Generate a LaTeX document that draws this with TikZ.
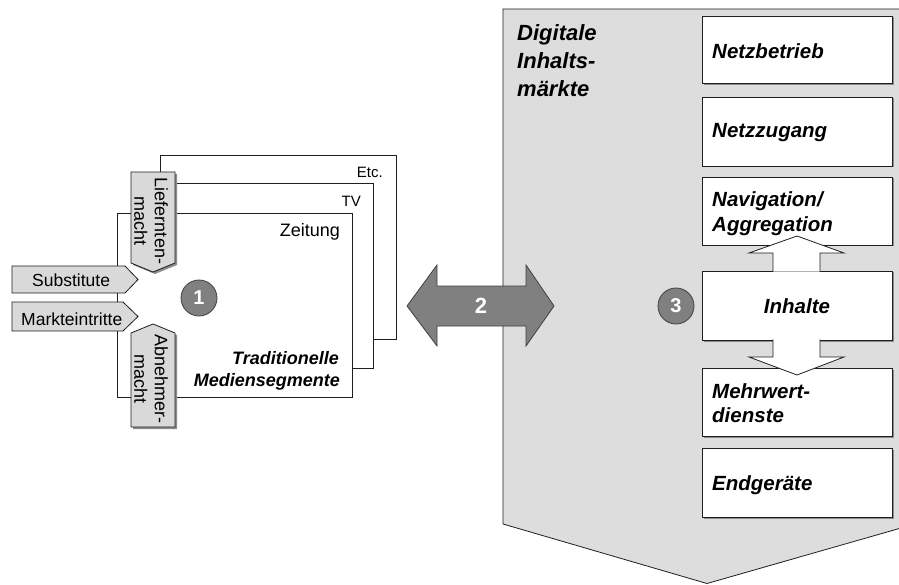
\documentclass[tikz,border=0pt]{standalone}
\usepackage{fontspec}
\setmainfont{Liberation Sans}
\definecolor{panelgray}{HTML}{DDDDDD}
\definecolor{taggray}{HTML}{D9D9D9}
\definecolor{midgray}{HTML}{808080}
\definecolor{rimgray}{HTML}{404040}
\definecolor{linecol}{HTML}{1E1E1E}
\definecolor{shadecol}{HTML}{8C8C8C}

\tikzset{
  framebox/.style={draw=linecol, fill=white, line width=0.8pt},
  tagshape/.style={draw=linecol, fill=taggray, line width=0.8pt},
  shadecopy/.style={fill=shadecol, draw=none},
  stagebox/.style={draw=linecol, fill=white, line width=0.8pt},
  flowarrow/.style={draw=linecol, fill=white, line width=0.8pt},
  numdisc/.style={circle, draw=rimgray, fill=midgray, line width=0.8pt,
    minimum size=36pt, inner sep=0pt, text=white,
    font=\fontsize{20}{20}\selectfont\bfseries},
  plain/.style={inner sep=0pt, font=\fontsize{#1}{#1}\selectfont},
  plain/.default=18,
  emph/.style={inner sep=0pt, font=\fontsize{#1}{#1}\selectfont\bfseries\itshape},
  emph/.default=20.5,
  vlabel/.style={inner sep=0pt, rotate=-90, align=center,
    font=\fontsize{18}{20.5}\selectfont}
}

\begin{document}
\begin{tikzpicture}[x=1pt, y=-1pt, line join=miter]
\useasboundingbox (0,0) rectangle (899,585);
\clip (0,0) rectangle (899,585);

% stacked segment sheets: Etc., TV, Zeitung
\draw[framebox] (160.5,155) rectangle (396,339);
\draw[framebox] (174,183.5) rectangle (373,368);
\draw[framebox] (117,213) rectangle (352,397);

\node[plain=15, anchor=base east] (etc) at (383,178) {Etc.};
\node[plain=15, anchor=base east] (tv) at (361,207) {TV};
\node[plain=18, anchor=base east] (zeitung) at (340,237) {Zeitung};
\node[emph=18, anchor=base east] (trad) at (339,364) {Traditionelle};
\node[emph=18, anchor=base east] (mseg) at (340,386) {Mediensegmente};

% forces pointing at the traditional segment
\fill[shadecopy] (133,174) -- (177,174) -- (177,265) -- (155,274) -- (133,265) -- cycle;
\draw[tagshape] (131,172) -- (175,172) -- (175,263) -- (153,272) -- (131,263) -- cycle;
\node[vlabel] (liefer) at (151,221) {Liefernten-\\macht};

\fill[shadecopy] (133,429) -- (133,335) -- (155,326) -- (177,335) -- (177,429) -- cycle;
\draw[tagshape] (131,427) -- (131,333) -- (153,324) -- (175,333) -- (175,427) -- cycle;
\node[vlabel] (abnehm) at (151,379) {Abnehmer-\\macht};

\draw[tagshape] (12,266) -- (125,266) -- (138,279.5) -- (125,293) -- (12,293) -- cycle;
\node[plain=17.5, anchor=base west] (subst) at (32,287) {Substitute};
\draw[tagshape] (12,302) -- (123,302) -- (138,316.5) -- (123,331) -- (12,331) -- cycle;
\node[plain=17.5, anchor=base west] (markt) at (21,325) {Markteintritte};

\node[numdisc] (one) at (199,298) {1};

% digital content markets panel
\draw[fill=panelgray, draw=linecol, line width=0.8pt]
  (503,9) -- (915,9) -- (915,524) -- (707,583.5) -- (503,524) -- cycle;
\node[emph=22, anchor=base west] (dig1) at (517,41) {Digitale};
\node[emph=22, anchor=base west] (dig2) at (517,69) {Inhalts-};
\node[emph=22, anchor=base west] (dig3) at (517,97) {märkte};

% value chain stages
\foreach \t/\b in {16/83.5, 97/166, 177/245, 271/340, 368/436, 448/517} {
  \fill[shadecopy] (703.5,\t+1.5) rectangle (893.5,\b+1.5);
  \draw[stagebox] (702,\t) rectangle (892,\b);
}

\node[emph, anchor=base west] (netzb) at (712,58.3) {Netzbetrieb};
\node[emph, anchor=base west] (netzz) at (712,138) {Netzzugang};
\node[emph, anchor=base west] (nav1) at (712,206.5) {Navigation/};
\node[emph, anchor=base west] (nav2) at (712,232) {Aggregation};
\node[emph, anchor=base] (inh) at (797,313.3) {Inhalte};
\node[emph, anchor=base west] (mw1) at (712,398.3) {Mehrwert-};
\node[emph, anchor=base west] (mw2) at (712,422.5) {dienste};
\node[emph, anchor=base west] (endg) at (712,490.5) {Endgeräte};

% arrows out of the content stage
\filldraw[flowarrow] (773,271.6) -- (773,253) -- (749,253) -- (797,236)
  -- (844,253) -- (820,253) -- (820,271.6);
\filldraw[flowarrow] (773,339.4) -- (773,357) -- (749,357) -- (797,375)
  -- (844,357) -- (820,357) -- (820,339.4);

% exchange between both worlds
\draw[fill=midgray, draw=rimgray, line width=0.8pt]
  (407,306) -- (437,265) -- (437,286) -- (526,286) -- (526,265) -- (554,306)
  -- (526,346) -- (526,326) -- (437,326) -- (437,346) -- cycle;
\node[inner sep=0pt, text=white, font=\fontsize{22}{22}\selectfont\bfseries] (two) at (481,306) {2};

\node[numdisc] (three) at (676,306) {3};
\end{tikzpicture}
\end{document}
